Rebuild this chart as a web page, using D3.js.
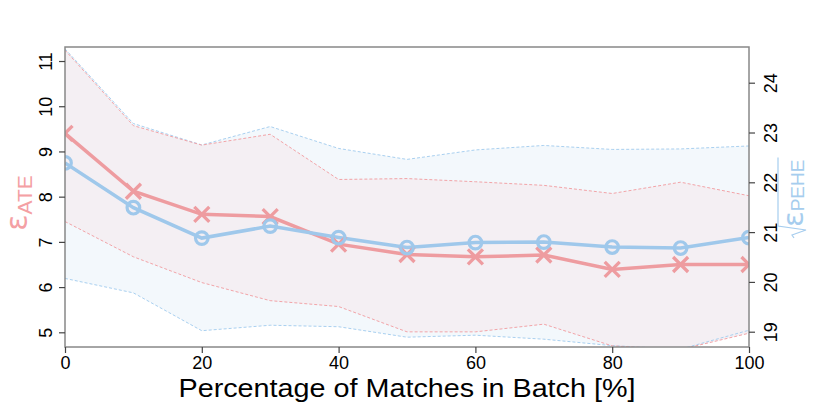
<!DOCTYPE html>
<html>
<head>
<meta charset="utf-8">
<script src="https://cdn.jsdelivr.net/npm/d3@7"></script>
<style>
  body { margin: 0; background: #fff; }
  svg { font-family: "Liberation Sans", Arial, Helvetica, sans-serif; }
</style>
</head>
<body>
<svg id="chart"></svg>
<script>
// percentage of matches in batch
const pct = [0, 10, 20, 30, 40, 50, 60, 70, 80, 90, 100];
// epsilon ATE (left axis)
const ate = [9.40, 8.12, 7.61, 7.56, 6.95, 6.72, 6.67, 6.71, 6.39, 6.50, 6.50];
const ateUpper = [11.24, 9.57, 9.14, 9.38, 8.38, 8.40, 8.33, 8.25, 8.07, 8.32, 8.02];
const ateLower = [7.45, 6.67, 6.10, 5.70, 5.57, 5.01, 5.01, 5.18, 4.70, 4.62, 4.98];
// sqrt epsilon PEHE (right axis)
const pehe = [22.39, 21.49, 20.88, 21.12, 20.89, 20.69, 20.79, 20.80, 20.70, 20.68, 20.89];
const peheUpper = [24.68, 23.18, 22.75, 23.12, 22.68, 22.46, 22.65, 22.74, 22.66, 22.67, 22.73];
const peheLower = [20.07, 19.78, 19.02, 19.13, 19.10, 18.89, 18.93, 18.85, 18.72, 18.65, 19.03];

const xTicks = [0, 20, 40, 60, 80, 100];
const leftTicks = [5, 6, 7, 8, 9, 10, 11];
const rightTicks = [19, 20, 21, 22, 23, 24];

const width = 814, height = 407;
const margin = { top: 47, right: 65, bottom: 60, left: 65 };
const pink = "#ee9ca0", blue = "#9fc8eb";

const svg = d3.select("#chart").attr("width", width).attr("height", height);

const x = d3.scaleLinear().domain([0, 100]).range([margin.left, width - margin.right]);
const yL = d3.scaleLinear().domain([4.675, 11.31]).range([height - margin.bottom, margin.top]);
const yR = d3.scaleLinear().domain([18.693, 24.717]).range([height - margin.bottom, margin.top]);

svg.append("clipPath").attr("id", "plotclip")
  .append("rect")
    .attr("x", margin.left).attr("y", margin.top)
    .attr("width", x(100) - x(0)).attr("height", yL.range()[0] - margin.top);

const plot = svg.append("g").attr("clip-path", "url(#plotclip)");

const rows = pct.map((p, i) => ({ p, ate: ate[i], aU: ateUpper[i], aL: ateLower[i],
  pehe: pehe[i], pU: peheUpper[i], pL: peheLower[i] }));

// bands
plot.append("path").datum(rows)
  .attr("fill", "#f3f8fc")
  .attr("d", d3.area().x(d => x(d.p)).y0(d => yR(d.pL)).y1(d => yR(d.pU)));
plot.append("path").datum(rows)
  .attr("fill", "#f4eff3")
  .attr("d", d3.area().x(d => x(d.p)).y0(d => yL(d.aL)).y1(d => yL(d.aU)));

const dashed = (acc, sc, col) => plot.append("path").datum(rows)
  .attr("fill", "none").attr("stroke", col).attr("stroke-width", 1)
  .attr("stroke-dasharray", "3,2")
  .attr("d", d3.line().x(d => x(d.p)).y(d => sc(acc(d))));
dashed(d => d.pU, yR, "#a9d0f0");
dashed(d => d.pL, yR, "#a9d0f0");
dashed(d => d.aU, yL, "#f2a4a8");
dashed(d => d.aL, yL, "#f2a4a8");

// mean lines
plot.append("path").datum(rows)
  .attr("fill", "none").attr("stroke", pink).attr("stroke-width", 3.5)
  .attr("d", d3.line().x(d => x(d.p)).y(d => yL(d.ate)));
plot.append("path").datum(rows)
  .attr("fill", "none").attr("stroke", blue).attr("stroke-width", 3.5)
  .attr("d", d3.line().x(d => x(d.p)).y(d => yR(d.pehe)));

// markers
const s = 7.5;
plot.selectAll(".cross").data(rows).join("path")
  .attr("class", "cross")
  .attr("fill", "none").attr("stroke", pink).attr("stroke-width", 3.3)
  .attr("d", d => {
    const cx = x(d.p), cy = yL(d.ate);
    return `M${cx - s},${cy - s}L${cx + s},${cy + s}M${cx - s},${cy + s}L${cx + s},${cy - s}`;
  });
plot.selectAll(".ring").data(rows).join("circle")
  .attr("class", "ring")
  .attr("cx", d => x(d.p)).attr("cy", d => yR(d.pehe)).attr("r", 6.3)
  .attr("fill", "none").attr("stroke", blue).attr("stroke-width", 3.2);

// box
svg.append("rect")
  .attr("x", margin.left).attr("y", margin.top)
  .attr("width", x(100) - x(0)).attr("height", yL.range()[0] - margin.top)
  .attr("fill", "none").attr("stroke", "#888").attr("stroke-width", 1.5);

// axes
const styleAxis = g => {
  g.select(".domain").remove();
  g.selectAll(".tick line").attr("stroke", "#444").attr("stroke-width", 1.2);
  g.selectAll(".tick text").attr("fill", "#000").attr("font-size", 18)
    .attr("font-family", "Liberation Sans, Arial, sans-serif");
};

svg.append("g")
  .attr("transform", `translate(0,${height - margin.bottom})`)
  .call(d3.axisBottom(x).tickValues(xTicks).tickSize(6).tickFormat(d3.format("d")))
  .call(styleAxis);

svg.append("g")
  .attr("transform", `translate(${margin.left},0)`)
  .call(d3.axisLeft(yL).tickValues(leftTicks).tickSize(6).tickFormat(d3.format("d")))
  .call(styleAxis)
  .call(g => g.selectAll(".tick text")
    .attr("x", null).attr("dy", null).attr("text-anchor", "middle")
    .attr("transform", "translate(-13,0) rotate(-90)"));

svg.append("g")
  .attr("transform", `translate(${width - margin.right},0)`)
  .call(d3.axisRight(yR).tickValues(rightTicks).tickSize(6).tickFormat(d3.format("d")))
  .call(styleAxis)
  .call(g => g.selectAll(".tick text")
    .attr("x", null).attr("dy", null).attr("text-anchor", "middle")
    .attr("transform", "translate(28,0) rotate(-90)"));

// x title
svg.append("text")
  .attr("x", (x(0) + x(100)) / 2).attr("y", 397)
  .attr("text-anchor", "middle").attr("font-size", 26).attr("fill", "#000")
  .attr("textLength", 457).attr("lengthAdjust", "spacingAndGlyphs")
  .text("Percentage of Matches in Batch [%]");

// left title: epsilon ATE
const lt = svg.append("text")
  .attr("transform", "translate(27,203) rotate(-90)")
  .attr("text-anchor", "middle").attr("fill", "#f4a0a4");
lt.append("tspan").attr("font-size", 30).attr("font-family", "DejaVu Sans, sans-serif").text("ε");
lt.append("tspan").attr("font-size", 21).attr("dy", 5).text("ATE");

// right title: sqrt epsilon PEHE
const rg = svg.append("g").attr("transform", "translate(803,227) rotate(-90)");
const rt = rg.append("text").attr("fill", "#a6cdee");
rt.append("tspan").attr("font-size", 29).attr("font-family", "DejaVu Sans, sans-serif").text("ε");
rt.append("tspan").attr("font-size", 19).attr("dy", 1).text("PEHE");
const tw = rt.node().getComputedTextLength();
rg.append("path")
  .attr("fill", "none").attr("stroke", "#a6cdee").attr("stroke-width", 1.2)
  .attr("d", `M-11,-9L-8,-11L-3,3L1,-25L${tw + 2},-25`);
</script>
</body>
</html>
